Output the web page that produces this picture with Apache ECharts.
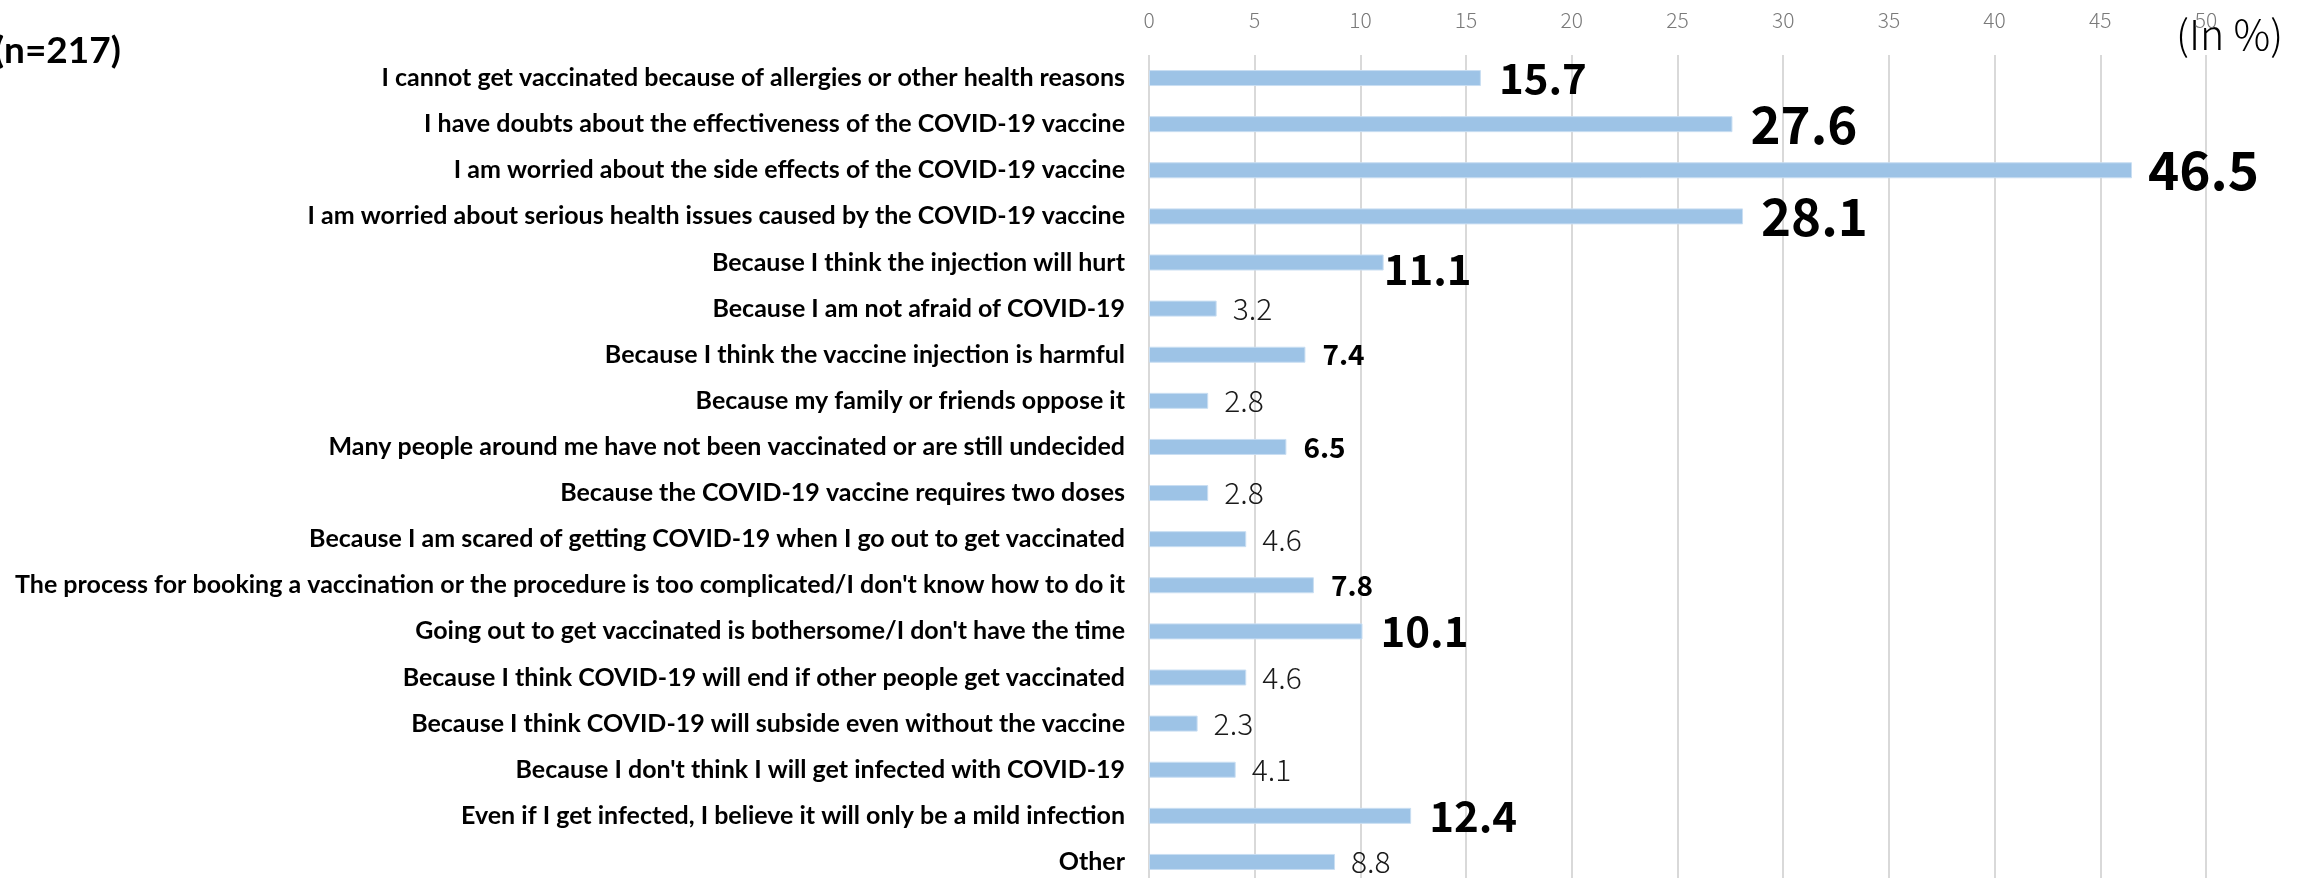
<!DOCTYPE html>
<html>
<head>
<meta charset="utf-8">
<script src="https://cdn.jsdelivr.net/npm/echarts@6/dist/echarts.min.js"></script>
<style>
  html, body { margin: 0; padding: 0; background: #ffffff; }
  #chart { width: 2311px; height: 878px; }
</style>
</head>
<body>
<div id="chart"></div>
<script>
// Reasons for not getting the COVID-19 vaccine (n=217), in percent
const categories = [
  "I cannot get vaccinated because of allergies or other health reasons",
  "I have doubts about the effectiveness of the COVID-19 vaccine",
  "I am worried about the side effects of the COVID-19 vaccine",
  "I am worried about serious health issues caused by the COVID-19 vaccine",
  "Because I think the injection will hurt",
  "Because I am not afraid of COVID-19",
  "Because I think the vaccine injection is harmful",
  "Because my family or friends oppose it",
  "Many people around me have not been vaccinated or are still undecided",
  "Because the COVID-19 vaccine requires two doses",
  "Because I am scared of getting COVID-19 when I go out to get vaccinated",
  "The process for booking a vaccination or the procedure is too complicated/I don't know how to do it",
  "Going out to get vaccinated is bothersome/I don't have the time",
  "Because I think COVID-19 will end if other people get vaccinated",
  "Because I think COVID-19 will subside even without the vaccine",
  "Because I don't think I will get infected with COVID-19",
  "Even if I get infected, I believe it will only be a mild infection",
  "Other"
];
const percentages = [15.7, 27.6, 46.5, 28.1, 11.1, 3.2, 7.4, 2.8, 6.5, 2.8, 4.6, 7.8, 10.1, 4.6, 2.3, 4.1, 12.4, 8.8];
const xTicks = { min: 0, max: 50, step: 5 };
const sampleNote = "(n=217)";
const unitNote = "(In %)";

// emphasis tier of each value label (0 = light, 1 = bold, 2..4 = large bold)
const labelTier = [2, 3, 4, 3, 2, 0, 1, 0, 1, 0, 0, 1, 2, 0, 0, 0, 2, 0];

const tierStyles = [
  { fontSize: 30, fontWeight: 300, color: '#1a1a1a', distance: 16 },
  { fontSize: 28, fontWeight: 'bold', color: '#000000', distance: 17 },
  { fontSize: 42, fontWeight: 'bold', color: '#000000', distance: 18 },
  { fontSize: 51, fontWeight: 'bold', color: '#000000', distance: 18 },
  { fontSize: 53, fontWeight: 'bold', color: '#000000', distance: 16 }
];

const seriesData = percentages.map(function (v, i) {
  const s = tierStyles[labelTier[i]];
  const label = {
    show: true,
    position: 'right',
    distance: s.distance,
    fontSize: s.fontSize,
    fontWeight: s.fontWeight,
    color: s.color,
    fontFamily: '"Noto Sans CJK JP", "Noto Sans", sans-serif',
    formatter: function (p) { return p.value.toFixed(1); }
  };
  // the "hurt" label sits tight against its bar, slightly lower
  if (i === 4) { label.distance = 0; label.offset = [0, 7]; }
  return { value: v, label: label };
});

const chart = echarts.init(document.getElementById('chart'), null, { renderer: 'canvas' });
chart.setOption({
  backgroundColor: '#ffffff',
  animation: false,
  // the plot area runs slightly past the bottom edge, so keep it unclamped
  grid: { left: 1149, width: 1057, top: 55, height: 830, outerBoundsMode: 'none', containLabel: false },
  xAxis: {
    type: 'value',
    position: 'top',
    min: xTicks.min,
    max: xTicks.max,
    interval: xTicks.step,
    axisLine: { show: false },
    axisTick: { show: false },
    axisLabel: {
      color: '#7a7a7a',
      fontSize: 21,
      fontWeight: 300,
      fontFamily: '"Noto Sans CJK JP", "Noto Sans", sans-serif',
      margin: 24
    },
    splitLine: { show: true, lineStyle: { color: '#d9d9d9', width: 2 } }
  },
  yAxis: {
    type: 'category',
    data: categories,
    inverse: true,
    axisLine: { show: false },
    axisTick: { show: false },
    axisLabel: {
      color: '#000000',
      fontSize: 25,
      fontWeight: 'bold',
      fontFamily: 'Lato, "Open Sans", sans-serif',
      margin: 24
    }
  },
  series: [{
    type: 'bar',
    data: seriesData,
    barWidth: 16,
    itemStyle: { color: '#9DC3E6', borderColor: '#c9def2', borderWidth: 1 }
  }],
  graphic: [
    {
      type: 'text',
      left: -6,
      top: 33,
      style: {
        text: sampleNote,
        fontSize: 37,
        fontWeight: 'bold',
        fill: '#000000',
        fontFamily: 'Lato, "Open Sans", sans-serif'
      }
    },
    {
      type: 'text',
      left: 2176,
      top: 14,
      style: {
        text: unitNote,
        fontSize: 41,
        fontWeight: 300,
        fill: '#000000',
        fontFamily: '"Noto Sans CJK JP", "Noto Sans", sans-serif'
      }
    }
  ]
});
</script>
</body>
</html>
